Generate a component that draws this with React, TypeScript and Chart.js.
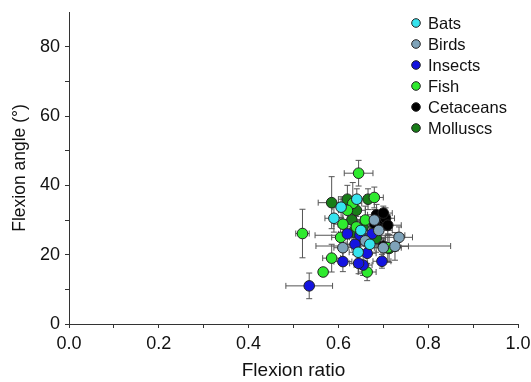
import React, { useEffect, useRef } from "react";
import { Chart, registerables } from "chart.js";

Chart.register(...registerables);

// ---- Data ----
const categories = ["Bats", "Birds", "Insects", "Fish", "Cetaceans", "Molluscs"];
const colors = ["#35e3ee", "#7fa3b9", "#1414e0", "#2eea2e", "#000000", "#187d18"];

const batsX = [0.606, 0.59, 0.641, 0.644, 0.67, 0.65];
const batsY = [33.7, 30.5, 36, 20.7, 23, 27];
const batsXErr = [0.02, 0.02, 0.02, 0.02, 0.02, 0.02];
const batsYErr = [3, 4, 3, 3, 3, 3];

const birdsX = [0.735, 0.726, 0.7, 0.61, 0.66, 0.69, 0.68];
const birdsY = [25, 22.4, 22, 22, 24, 27, 30];
const birdsXErr = [0.03, 0.03, 0.03, 0.02, 0.03, 0.03, 0.03];
const birdsYErr = [3, 4, 3, 3, 3, 4, 3];

const insectsX = [0.535, 0.61, 0.655, 0.664, 0.697, 0.648, 0.637, 0.675, 0.62, 0.645];
const insectsY = [11, 18, 17, 20.4, 18.1, 25.6, 23, 26, 26, 17.5];
const insectsXErr = [0.052, 0.02, 0.02, 0.02, 0.02, 0.1, 0.02, 0.02, 0.02, 0.02];
const insectsYErr = [3.7, 2.9, 3, 3, 2, 4, 3, 4, 3, 3];

const fishX = [0.52, 0.566, 0.585, 0.645, 0.632, 0.62, 0.61, 0.605, 0.664, 0.68, 0.66, 0.71, 0.64];
const fishY = [26.1, 15, 19, 43.5, 34.8, 32.8, 28.8, 25, 15, 36.5, 30, 22, 28];
const fishXErr = [0.015, 0, 0.02, 0.032, 0.02, 0.02, 0.02, 0.02, 0.02, 0.02, 0.02, 0.03, 0.02];
const fishYErr = [7, 0, 4, 3.7, 6, 4, 4, 3, 2.5, 3, 4, 4, 3];

const cetaceansX = [0.685, 0.695, 0.705, 0.69, 0.7, 0.71, 0.68, 0.7];
const cetaceansY = [31.5, 29.5, 30.5, 27.5, 32, 28.5, 29, 22.5];
const cetaceansXErr = [0.02, 0.02, 0.02, 0.02, 0.02, 0.03, 0.02, 0.15];
const cetaceansYErr = [3, 3, 3, 3, 2, 3, 3, 2];

const molluscsX = [0.585, 0.64, 0.63, 0.666, 0.633, 0.713, 0.684, 0.655, 0.62];
const molluscsY = [35, 32.8, 30, 36, 26.5, 21.8, 24.7, 28, 36];
const molluscsXErr = [0.03, 0.02, 0.02, 0.02, 0.02, 0.02, 0.02, 0.02, 0.02];
const molluscsYErr = [7.5, 4, 4, 3, 3, 4, 4, 3, 4];

const seriesX = [batsX, birdsX, insectsX, fishX, cetaceansX, molluscsX];
const seriesY = [batsY, birdsY, insectsY, fishY, cetaceansY, molluscsY];
const seriesXErr = [batsXErr, birdsXErr, insectsXErr, fishXErr, cetaceansXErr, molluscsXErr];
const seriesYErr = [batsYErr, birdsYErr, insectsYErr, fishYErr, cetaceansYErr, molluscsYErr];

const xTickLabels = ["0.0", "0.2", "0.4", "0.6", "0.8", "1.0"];
const yTickLabels = ["0", "20", "40", "60", "80"];

const FONT = "'Liberation Sans', Arial, Helvetica, sans-serif";

const errorBarPlugin = {
  id: "errorBars",
  beforeDatasetsDraw(chart: any) {
    const { ctx, scales } = chart;
    const xs = scales.x;
    const ys = scales.y;
    ctx.save();
    ctx.strokeStyle = "#555555";
    ctx.lineWidth = 1;
    const cap = 3;
    chart.data.datasets.forEach((ds: any, di: number) => {
      const xe = seriesXErr[di];
      const ye = seriesYErr[di];
      ds.data.forEach((p: any, i: number) => {
        const cx = xs.getPixelForValue(p.x);
        const cy = ys.getPixelForValue(p.y);
        ctx.beginPath();
        if (xe[i] > 0) {
          const x1 = xs.getPixelForValue(p.x - xe[i]);
          const x2 = xs.getPixelForValue(p.x + xe[i]);
          ctx.moveTo(x1, cy);
          ctx.lineTo(x2, cy);
          ctx.moveTo(x1, cy - cap);
          ctx.lineTo(x1, cy + cap);
          ctx.moveTo(x2, cy - cap);
          ctx.lineTo(x2, cy + cap);
        }
        if (ye[i] > 0) {
          const y1 = ys.getPixelForValue(p.y - ye[i]);
          const y2 = ys.getPixelForValue(p.y + ye[i]);
          ctx.moveTo(cx, y1);
          ctx.lineTo(cx, y2);
          ctx.moveTo(cx - cap, y1);
          ctx.lineTo(cx + cap, y1);
          ctx.moveTo(cx - cap, y2);
          ctx.lineTo(cx + cap, y2);
        }
        ctx.stroke();
      });
    });
    ctx.restore();
  },
};

const legendPlugin = {
  id: "insideLegend",
  afterDraw(chart: any) {
    const { ctx, chartArea } = chart;
    ctx.save();
    ctx.font = `16.5px ${FONT}`;
    ctx.textBaseline = "middle";
    ctx.textAlign = "left";
    const mx = chartArea.right - 102;
    chart.data.datasets.forEach((ds: any, i: number) => {
      const y = chartArea.top + 11 + i * 21;
      ctx.beginPath();
      ctx.arc(mx, y, 4.3, 0, Math.PI * 2);
      ctx.fillStyle = ds.backgroundColor;
      ctx.fill();
      ctx.lineWidth = 1;
      ctx.strokeStyle = "#222";
      ctx.stroke();
      ctx.fillStyle = "#111";
      ctx.fillText(ds.label, mx + 12, y + 1);
    });
    ctx.restore();
  },
};

export default function App() {
  const ref = useRef<HTMLCanvasElement>(null);
  useEffect(() => {
    if (!ref.current) return;
    const datasets = categories.map((name, di) => ({
      label: name,
      data: seriesX[di].map((x, i) => ({ x, y: seriesY[di][i] })),
      backgroundColor: colors[di],
      borderColor: "#222",
      borderWidth: 1,
      pointRadius: 5.3,
      pointHoverRadius: 5.3,
    }));
    const chart = new Chart(ref.current, {
      type: "scatter",
      data: { datasets },
      plugins: [errorBarPlugin, legendPlugin],
      options: {
        animation: false,
        responsive: false,
        events: [],
        layout: { padding: { left: 0, right: 13, top: 12, bottom: 0 } },
        plugins: { legend: { display: false }, tooltip: { enabled: false } },
        scales: {
          x: {
            type: "linear",
            min: 0,
            max: 1,
            afterFit: (s: any) => {
              s.height = 58;
              s.paddingLeft = 0;
              s.paddingRight = 0;
            },
            ticks: {
              stepSize: 0.1,
              autoSkip: false,
              maxRotation: 0,
              padding: 5,
              color: "#111",
              font: { family: FONT, size: 18 },
              callback: (v: any) => {
                const idx = Math.round(Number(v) * 10);
                return idx % 2 === 0 ? xTickLabels[idx / 2] : "";
              },
            },
            grid: { display: true, drawOnChartArea: false, drawTicks: true, tickLength: 4, color: "#333" },
            border: { display: true, color: "#333" },
            title: {
              display: true,
              text: "Flexion ratio",
              color: "#111",
              font: { family: FONT, size: 19 },
              padding: { top: 1, bottom: 0 },
            },
          },
          y: {
            type: "linear",
            min: 0,
            max: 90,
            afterFit: (s: any) => {
              s.width = 69;
              s.paddingTop = 0;
              s.paddingBottom = 0;
            },
            ticks: {
              stepSize: 10,
              autoSkip: false,
              padding: 5,
              color: "#111",
              font: { family: FONT, size: 18 },
              callback: (v: any) => {
                const idx = Math.round(Number(v) / 10);
                return idx % 2 === 0 && idx / 2 < yTickLabels.length ? yTickLabels[idx / 2] : "";
              },
            },
            grid: {
              display: true,
              drawOnChartArea: false,
              drawTicks: true,
              tickLength: 4,
              color: (c: any) => (c.tick && c.tick.value === 90 ? "rgba(0,0,0,0)" : "#333"),
            },
            border: { display: true, color: "#333" },
            title: {
              display: true,
              text: "Flexion angle (°)",
              color: "#111",
              font: { family: FONT, size: 17.5 },
              padding: { top: 10, bottom: 0 },
            },
          },
        },
      },
    });
    return () => chart.destroy();
  }, []);
  return (
    <div style={{ position: "fixed", left: 0, top: 0, width: 531, height: 382, background: "#fff" }}>
      <canvas ref={ref} width={531} height={382} />
    </div>
  );
}
